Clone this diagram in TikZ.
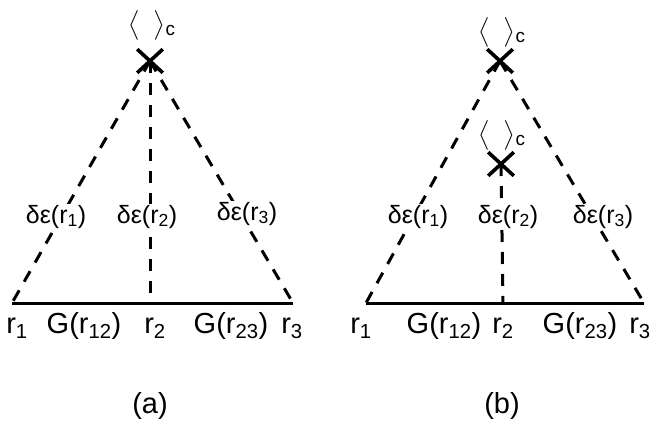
\documentclass[tikz,border=0pt]{standalone}
\usepackage{amsmath}
\usepackage{fontspec}
\setmainfont{Liberation Sans}
\usetikzlibrary{shapes.misc}
\newcommand{\ensavg}{$\bigl\langle\hspace{0.5em}\bigr\rangle$\textsubscript{c}}

\begin{document}
\begin{tikzpicture}[x=1pt, y=-1pt, line width=3pt,
    vtx/.style={cross out, draw, line width=3.6pt, minimum width=22pt,
                minimum height=20pt, inner sep=0pt},
    link/.style={dash pattern=on 12pt off 10pt},
    site/.style={font=\fontsize{29}{31}\selectfont, inner sep=0pt, anchor=base},
    amp/.style={font=\fontsize{25}{27}\selectfont, inner sep=1pt, anchor=base,
                fill=white},
    avg/.style={font=\fontsize{27}{29}\selectfont, inner sep=0pt, anchor=north}]
  \useasboundingbox (0,0) rectangle (651,432);

  % (a)
  \node[vtx] (xa) at (150,61) {};
  \node[avg] (avga) at (152,9) {\ensavg};
  \coordinate (r1a) at (12,303);
  \coordinate (r2a) at (150,303);
  \coordinate (r3a) at (293,303);
  \draw[link] (xa.center) -- (r1a);
  \draw[link] (xa.center) -- (r2a);
  \draw[link] (xa.center) -- (r3a);
  \draw (r1a) -- (r3a);
  \node[amp] (da1) at (56,223) {δε(r\textsubscript{1})};
  \node[amp] (da2) at (147,223) {δε(r\textsubscript{2})};
  \node[amp] (da3) at (247,220) {δε(r\textsubscript{3})};
  \node[site] (pa1) at (17,333) {r\textsubscript{1}};
  \node[site] (ga12) at (84,333) {G(r\textsubscript{12})};
  \node[site] (pa2) at (155,333) {r\textsubscript{2}};
  \node[site] (ga23) at (231,333) {G(r\textsubscript{23})};
  \node[site] (pa3) at (292,333) {r\textsubscript{3}};
  \node[site] (capa) at (150,413) {(a)};

  % (b)
  \node[vtx] (xb) at (500,61) {};
  \node[avg] (avgb) at (502,16) {\ensavg};
  \node[vtx] (xb2) at (501,164) {};
  \node[avg] (avgb2) at (502,119) {\ensavg};
  \coordinate (r1b) at (366,303);
  \coordinate (r2b) at (503,303);
  \coordinate (r3b) at (644,303);
  \draw[link] (xb.center) -- (r1b);
  \draw[link] (xb2.center) -- (r2b);
  \draw[link] (xb.center) -- (r3b);
  \draw (r1b) -- (r3b);
  \node[amp] (db1) at (418,223) {δε(r\textsubscript{1})};
  \node[amp] (db2) at (508,223) {δε(r\textsubscript{2})};
  \node[amp] (db3) at (603,223) {δε(r\textsubscript{3})};
  \node[site] (pb1) at (361,333) {r\textsubscript{1}};
  \node[site] (gb12) at (444,333) {G(r\textsubscript{12})};
  \node[site] (pb2) at (503,333) {r\textsubscript{2}};
  \node[site] (gb23) at (580,333) {G(r\textsubscript{23})};
  \node[site] (pb3) at (640,333) {r\textsubscript{3}};
  \node[site] (capb) at (502,413) {(b)};
\end{tikzpicture}
\end{document}
